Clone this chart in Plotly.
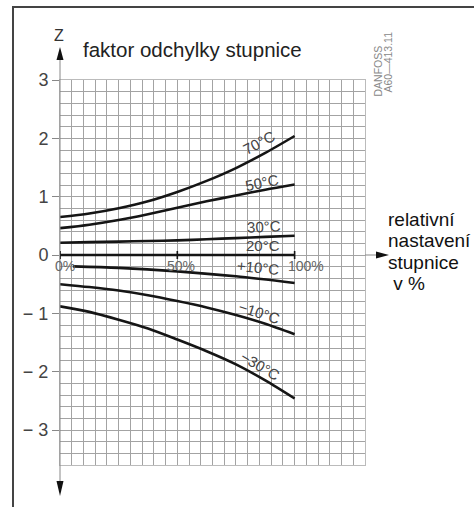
import plotly.graph_objects as go

# ---------------- data ----------------
x_pct = [0, 12.5, 25, 37.5, 50, 62.5, 75, 87.5, 100]
z_70 = [0.65, 0.71, 0.80, 0.92, 1.08, 1.27, 1.49, 1.75, 2.04]
z_50 = [0.46, 0.52, 0.60, 0.70, 0.81, 0.92, 1.02, 1.12, 1.21]
z_30 = [0.21, 0.22, 0.23, 0.24, 0.25, 0.27, 0.29, 0.31, 0.33]
z_20 = [0.0, 0.0, 0.0, 0.0, 0.0, 0.0, 0.0, 0.0, 0.0]
x_p10 = [5.5, 25, 50, 75, 100]
z_p10 = [-0.195, -0.22, -0.28, -0.365, -0.48]
z_m10 = [-0.50, -0.55, -0.61, -0.69, -0.79, -0.90, -1.03, -1.18, -1.36]
z_m30 = [-0.88, -0.975, -1.11, -1.26, -1.45, -1.65, -1.875, -2.15, -2.46]

curve_labels = ["70°C", "50°C", "30°C", "20°C", "+10°C", "−10°C", "−30°C"]
label_x = [84.8, 86.2, 86.8, 86.6, 84.4, 84.8, 85.1]
label_z = [1.88, 1.20, 0.44, 0.11, -0.27, -1.04, -1.95]
label_angle = [-28, -11, -3, 0, 6, 18, 30]

y_tick_vals = [3, 2, 1, 0, -1, -2, -3]
y_tick_text = ["3", "2", "1", "0", "− 1", "− 2", "− 3"]
x_tick_vals = [0, 50, 100]
x_tick_text = ["0%", "50%", "100%"]
x_tick_shift = [5, 4, 11]

X_RANGE = [0, 130]
Y_RANGE = [-3.6, 3]

# ---------------- layout geometry ----------------
W, H = 474, 507
L, R, T, B = 60, 109, 80, 42
PW, PH = W - L - R, H - T - B


def px(xp):
    return (xp - L) / PW


def py(yp):
    return (H - B - yp) / PH


FONT = "Liberation Sans, Arial, sans-serif"
GRID = "#a3a3a3"

fig = go.Figure()

series = [(x_pct, z_70), (x_pct, z_50), (x_pct, z_30), (x_pct, z_20),
          (x_p10, z_p10), (x_pct, z_m10), (x_pct, z_m30)]
for (xs, zs), name in zip(series, curve_labels):
    fig.add_trace(go.Scatter(x=xs, y=zs, mode="lines", name=name,
                             line=dict(color="#151515", width=2.6, shape="spline",
                                       smoothing=0.8),
                             hoverinfo="skip", showlegend=False))

ann = []
for t, xx, zz, a in zip(curve_labels, label_x, label_z, label_angle):
    ann.append(dict(x=xx, y=zz, xref="x", yref="y", text=t, showarrow=False,
                    xanchor="center", yanchor="middle", yshift=3,
                    textangle=a, font=dict(family=FONT, size=15, color="#444")))

for v, t, s in zip(x_tick_vals, x_tick_text, x_tick_shift):
    ann.append(dict(x=v, y=0, xref="x", yref="y", text=t, showarrow=False,
                    xanchor="center", yanchor="middle", xshift=s, yshift=-11,
                    font=dict(family=FONT, size=14, color="#666")))


def txt(xp, yp, text, size, color, xanchor="center", angle=0):
    return dict(x=px(xp), y=py(yp), xref="paper", yref="paper", text=text,
                xanchor=xanchor, yanchor="middle", textangle=angle,
                showarrow=False, font=dict(family=FONT, size=size, color=color))


ann.append(txt(59, 35, "Z", 16, "#333"))
ann.append(txt(81, 49, "faktor odchylky stupnice", 20.5, "#222", xanchor="left"))
for i, line in enumerate(["relativní", "nastavení", "stupnice", " v %"]):
    ann.append(txt(386, 219 + 21.5 * i, line, 19, "#111", xanchor="left"))
ann.append(txt(377.5, 71, "DANFOSS", 10.5, "#888", angle=-90))
ann.append(txt(387.5, 62, "A60—413.11", 10.5, "#888", angle=-90))

# zero-line position in paper coordinates
z0 = (0 - Y_RANGE[0]) / (Y_RANGE[1] - Y_RANGE[0])
z0_px = H - B - z0 * PH

shapes = []
# outer frame (left and top edges)
shapes.append(dict(type="path", xref="paper", yref="paper",
                   path=f"M {px(13)} {py(520)} L {px(13)} {py(7)} L {px(480)} {py(7)}",
                   line=dict(color="#444", width=2)))
# vertical Z axis with arrows
shapes.append(dict(type="line", xref="paper", yref="paper", x0=px(60), x1=px(60),
                   y0=py(488), y1=py(58), line=dict(color="#888", width=1)))
shapes.append(dict(type="path", xref="paper", yref="paper",
                   path=f"M {px(60)} {py(47)} L {px(56.5)} {py(60)} L {px(63.5)} {py(60)} Z",
                   fillcolor="#111", line=dict(width=0)))
shapes.append(dict(type="path", xref="paper", yref="paper",
                   path=f"M {px(60)} {py(496)} L {px(56.5)} {py(481)} L {px(63.5)} {py(481)} Z",
                   fillcolor="#111", line=dict(width=0)))
# x-axis extension with arrow
shapes.append(dict(type="line", xref="paper", yref="paper", x0=px(365), x1=px(380),
                   y0=z0, y1=z0, line=dict(color="#888", width=1)))
shapes.append(dict(type="path", xref="paper", yref="paper",
                   path=f"M {px(389)} {z0} L {px(376)} {py(z0_px - 3.5)} L {px(376)} {py(z0_px + 3.5)} Z",
                   fillcolor="#111", line=dict(width=0)))
# tick marks on the zero line
for v in x_tick_vals:
    shapes.append(dict(type="line", xref="x", yref="paper", x0=v, x1=v,
                       y0=z0 - 4 / PH, y1=z0 + 4 / PH,
                       line=dict(color="#151515", width=1.6)))

fig.update_layout(
    width=W, height=H,
    margin=dict(l=L, r=R, t=T, b=B, pad=0),
    paper_bgcolor="white", plot_bgcolor="white",
    showlegend=False,
    annotations=ann, shapes=shapes,
    xaxis=dict(range=X_RANGE, tickmode="linear", tick0=0, dtick=50,
               showticklabels=False, ticks="", showgrid=True,
               gridcolor=GRID, gridwidth=1, zeroline=False,
               showline=True, linecolor="#bbbbbb", linewidth=1, mirror=True,
               minor=dict(dtick=5, tick0=0, showgrid=True, gridcolor=GRID, gridwidth=1),
               fixedrange=True),
    yaxis=dict(range=Y_RANGE, tickmode="array", tickvals=y_tick_vals,
               ticktext=y_tick_text, ticks="outside", ticklen=7,
               tickcolor="#888", tickwidth=1,
               tickfont=dict(family=FONT, size=18, color="#444"),
               showgrid=True, gridcolor=GRID, gridwidth=1, zeroline=False,
               showline=True, linecolor="#bbbbbb", linewidth=1, mirror=True,
               minor=dict(dtick=0.2, tick0=0, showgrid=True, gridcolor=GRID, gridwidth=1),
               fixedrange=True),
)

fig.write_html("out.html", config={"displayModeBar": False})
